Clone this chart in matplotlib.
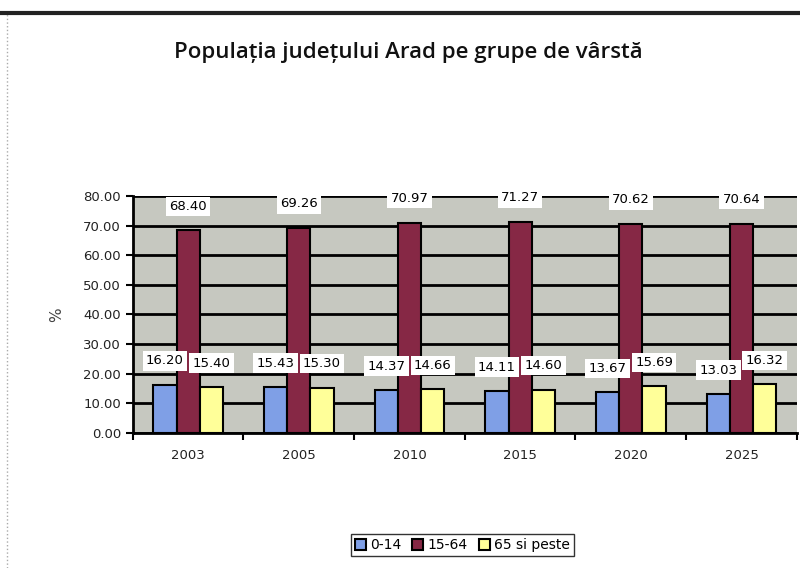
import numpy as np
import matplotlib
matplotlib.use("Agg")
import matplotlib.pyplot as plt
from matplotlib.lines import Line2D

years = ["2003", "2005", "2010", "2015", "2020", "2025"]
age_0_14 = [16.20, 15.43, 14.37, 14.11, 13.67, 13.03]
age_15_64 = [68.40, 69.26, 70.97, 71.27, 70.62, 70.64]
age_65_plus = [15.40, 15.30, 14.66, 14.60, 15.69, 16.32]
series_names = ["0-14", "15-64", "65 si peste"]
colors = ["#7f9fe6", "#862845", "#ffff99"]


def main():
    fig = plt.figure(figsize=(8, 5.68), dpi=100)
    ax = fig.add_axes([0.166, 0.238, 0.830, 0.417])
    ax.set_facecolor("#c6c8c0")

    x = np.arange(len(years))
    w = 0.21
    for i, vals in enumerate([age_0_14, age_15_64, age_65_plus]):
        pos = x + (i - 1) * w
        ax.bar(pos, vals, w, color=colors[i], edgecolor="black", linewidth=1.5,
               zorder=3, label=series_names[i])
        # value boxes sit a fixed distance above each bar
        for p, v in zip(pos, vals):
            ax.annotate(f"{v:.2f}", (p, v), xytext=(0, 24), textcoords="offset pixels",
                        ha="center", va="center", fontsize=9.5, zorder=5,
                        bbox=dict(boxstyle="square,pad=0.25", fc="white", ec="none"))

    ax.set_xlim(-0.5, len(years) - 0.5)
    ax.set_ylim(0, 80)
    ticks = np.arange(0, 81, 10)
    ax.set_yticks(ticks)
    ax.set_yticklabels([f"{t:.2f}" for t in ticks], fontsize=9.5, color="#222222")
    ax.set_xticks(x)
    ax.set_xticklabels(years, fontsize=9.5, color="#222222")
    ax.set_xticks(np.arange(-0.5, len(years)), minor=True)
    ax.tick_params(axis="x", which="major", length=0, pad=12)
    ax.tick_params(axis="x", which="minor", length=5, width=1.5)
    ax.tick_params(axis="y", length=5, width=1.5)
    ax.yaxis.grid(True, color="black", linewidth=2, zorder=1)
    ax.set_axisbelow(True)
    for s in ["top", "right"]:
        ax.spines[s].set_visible(False)
    for s in ["left", "bottom"]:
        ax.spines[s].set_linewidth(2)
    ax.set_ylabel("%", fontsize=11, color="#444444", labelpad=14)

    fig.text(0.51, 0.907, "Populația județului Arad pe grupe de vârstă",
             ha="center", va="center", fontsize=16, fontweight="semibold",
             fontfamily="Open Sans", color="#111111")

    fig.add_artist(Line2D([0, 1], [0.977, 0.977], color="#222222", linewidth=3))
    fig.add_artist(Line2D([0.009, 0.009], [0.0, 0.975], color="#aaaaaa",
                          linewidth=1, linestyle=":"))

    fig.legend(loc="center", bbox_to_anchor=(0.578, 0.04), ncol=3, fontsize=10,
               frameon=True, fancybox=False, edgecolor="black", handlelength=0.8,
               handleheight=0.8, handletextpad=0.3, columnspacing=0.8,
               borderpad=0.3)

    fig.savefig("out.png", dpi=100)


if __name__ == "__main__":
    main()
